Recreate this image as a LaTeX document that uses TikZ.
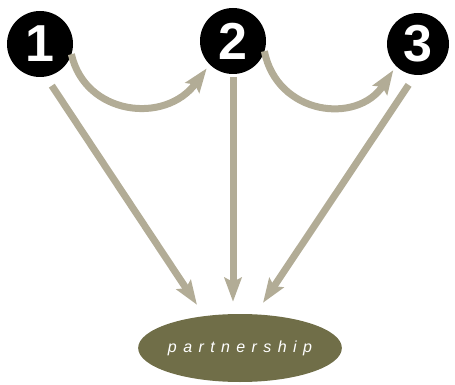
\documentclass[tikz,border=0pt]{standalone}
\usepackage{fontspec}
\setmainfont{Liberation Sans}
\usetikzlibrary{arrows.meta,shapes.geometric}
\definecolor{arrowcol}{RGB}{178,172,150}
\definecolor{olivecol}{RGB}{112,110,72}
\tikzset{
  numcircle/.style={circle, fill=black, text=white, minimum size=#1, inner sep=0pt, outer sep=0pt,
    font=\fontsize{52}{52}\selectfont\bfseries},
  arr/.style={draw=arrowcol, line width=7pt, -{Stealth[length=24pt, width=17pt, inset=4pt]}},
  partbox/.style={ellipse, fill=olivecol, minimum width=196pt, minimum height=68pt, inner sep=0pt,
    text=white, font=\fontsize{16}{16}\selectfont\itshape\addfontfeatures{LetterSpace=40}}
}
\begin{document}
\begin{tikzpicture}[x=1pt,y=-1pt]
\useasboundingbox (0,0) rectangle (455,385);
\node[numcircle=66pt] (c1) at (40,44) {1};
\node[numcircle=66pt] (c2) at (233,41) {2};
\node[numcircle=62pt] (c3) at (418,44) {3};
\node[partbox] (p) at (240,348) {partnership};
% curved arrows
\draw[arr, shorten >=5pt] (c1.-18) .. controls (85,115) and (165,125) .. (c2.-135);
\draw[arr, shorten >=5pt] (c2.-18) .. controls (277,115) and (357,125) .. (c3.-135);
% straight arrows
\draw[arr, shorten <=11pt] (c1.-80) -- ([xshift=-43pt,yshift=9pt]p.north);
\draw[arr, shorten <=3pt] (c2.south) -- ([xshift=-7pt,yshift=12pt]p.north);
\draw[arr, shorten <=12pt] (c3.-95) -- ([xshift=23pt,yshift=11pt]p.north);
\end{tikzpicture}
\end{document}
